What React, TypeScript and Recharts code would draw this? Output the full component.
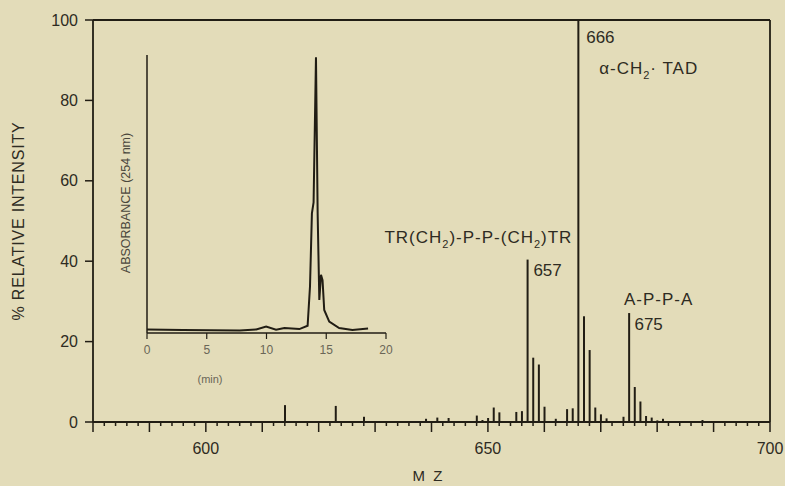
import React from "react";
import {
  ComposedChart,
  Bar,
  XAxis,
  YAxis,
  ReferenceLine,
  ReferenceDot,
  LineChart,
  Line,
} from "recharts";

// mass spectrum (m/z, % relative intensity)
const massValues = [614, 623, 628, 639, 641, 643, 648, 649, 650, 651, 652, 655, 656, 657, 658, 659, 660, 662, 664, 665, 666, 667, 668, 669, 670, 671, 674, 675, 676, 677, 678, 679, 680, 681, 688];
const intensities = [4.2, 4.0, 1.3, 0.8, 1.1, 1.0, 1.6, 0.5, 1.0, 3.6, 2.4, 2.5, 2.7, 40.4, 16, 14.3, 3.8, 0.8, 3.2, 3.4, 100, 26.3, 17.9, 3.6, 1.9, 0.9, 1.3, 27.1, 8.7, 5.1, 1.5, 1.1, 0.4, 0.8, 0.5];

const yTicks = [0, 20, 40, 60, 80, 100];
const xTickValues: number[] = [];
for (let v = 580; v <= 700; v += 2) xTickValues.push(v);
const xLabelled = [600, 650, 700];

// inset chromatogram (min, absorbance)
const insetTimes = [0, 3, 7.75, 9.14, 9.97, 10.8, 11.5, 12.75, 13.44, 13.64, 13.8, 13.94, 14.14, 14.28, 14.42, 14.56, 14.69, 14.83, 15.25, 16.08, 17.19, 18.5];
const insetAbsorbance = [1.3, 1.1, 0.9, 1.3, 2.3, 1.2, 1.8, 1.4, 2.6, 16.7, 43, 47, 99.2, 43, 11.9, 20.9, 19, 8.3, 4.1, 1.8, 1.1, 1.6];
const insetTicks = [0, 5, 10, 15, 20];

const peakTags = [666, 657, 675];
const compoundNames = [
  { mz: 666, parts: ["α-CH", "2", "· TAD"] },
  { mz: 657, parts: ["TR(CH", "2", ")-P-P-(CH", "2", ")TR"] },
  { mz: 675, parts: ["A-P-P-A"] },
];

const spectrum = massValues.map((mz, i) => ({ mz, intensity: intensities[i] }));
const chromatogram = insetTimes.map((t, i) => ({ t, a: insetAbsorbance[i] }));
const valueAt = (mz: number) => intensities[massValues.indexOf(mz)];

const BG = "#e3dcb9";
const INK = "#211d14";
const TEXT = "#2e2b22";
const FONT = "'Liberation Sans', Arial, sans-serif";

const tagOffset: Record<number, [number, number]> = { 666: [8, 23], 657: [6, 16], 675: [5.5, 17] };
const nameOffset: Record<number, [number, number, "start" | "end"]> = {
  666: [21, 54, "start"],
  657: [45, -17, "end"],
  675: [-5, -8, "start"],
};

const MassTick = (props: any) => {
  const { x, y, payload } = props;
  const v = payload.value;
  const len = v % 10 === 0 ? 10 : 4;
  return (
    <g>
      <line x1={x} x2={x} y1={y} y2={y + len} stroke={INK} strokeWidth={1.5} />
      {xLabelled.includes(v) && (
        <text x={x} y={y + 32} textAnchor="middle" fontSize={16} fill={TEXT} fontFamily={FONT}>
          {v}
        </text>
      )}
    </g>
  );
};

const renderName = (parts: string[]) =>
  parts.map((p, i) =>
    i % 2 === 1 ? (
      <tspan key={i} fontSize={11} dy={5}>{p}</tspan>
    ) : (
      <tspan key={i} dy={i === 0 ? 0 : -5}>{p}</tspan>
    )
  );

export default function App() {
  return (
    <div style={{ position: "absolute", left: 0, top: 0, width: 785, height: 486, background: BG, overflow: "hidden" }}>
      <ComposedChart
        width={785}
        height={486}
        data={spectrum}
        margin={{ top: 20, right: 15, bottom: 24, left: 0 }}
        style={{ position: "absolute", left: 0, top: 0 }}
      >
        <XAxis
          dataKey="mz"
          type="number"
          domain={[580, 700]}
          ticks={xTickValues}
          interval={0}
          tick={<MassTick />}
          tickLine={false}
          tickSize={0}
          tickMargin={0}
          height={40}
          axisLine={{ stroke: INK, strokeWidth: 1.8 }}
          allowDataOverflow
          label={{
            content: (p: any) => {
              const vb = p.viewBox;
              return (
                <text x={vb.x + vb.width / 2 - 3} y={vb.y + vb.height + 19} textAnchor="middle" fontSize={15} fill={TEXT} fontFamily={FONT} letterSpacing={2}>
                  M Z
                </text>
              );
            },
          }}
        />
        <YAxis
          type="number"
          domain={[0, 100]}
          ticks={yTicks}
          interval={0}
          width={93}
          tickSize={8}
          tickMargin={7}
          tickLine={{ stroke: INK, strokeWidth: 1.5 }}
          axisLine={{ stroke: INK, strokeWidth: 1.8 }}
          tick={{ fontSize: 16, fill: TEXT, fontFamily: FONT }}
          label={{
            content: (p: any) => {
              const vb = p.viewBox;
              const cx = vb.x + 18;
              const cy = vb.y + vb.height / 2;
              return (
                <text x={cx} y={cy} transform={`rotate(-90 ${cx} ${cy})`} textAnchor="middle" dominantBaseline="central" fontSize={16} fill={TEXT} fontFamily={FONT} letterSpacing={0.8}>
                  % RELATIVE INTENSITY
                </text>
              );
            },
          }}
        />
        <ReferenceLine y={100} stroke={INK} strokeWidth={1.8} />
        <ReferenceLine x={700} stroke={INK} strokeWidth={1.8} />
        <Bar dataKey="intensity" fill={INK} barSize={2} isAnimationActive={false} />
        {peakTags.map((mz) => (
          <ReferenceDot
            key={"tag" + mz}
            x={mz}
            y={valueAt(mz)}
            r={0}
            fill="none"
            stroke="none"
            label={{
              content: (p: any) => (
                <text x={p.viewBox.x + tagOffset[mz][0]} y={p.viewBox.y + tagOffset[mz][1]} fontSize={17} fill={TEXT} fontFamily={FONT}>
                  {mz}
                </text>
              ),
            }}
          />
        ))}
        {compoundNames.map((c) => (
          <ReferenceDot
            key={"name" + c.mz}
            x={c.mz}
            y={valueAt(c.mz)}
            r={0}
            fill="none"
            stroke="none"
            label={{
              content: (p: any) => (
                <text
                  x={p.viewBox.x + nameOffset[c.mz][0]}
                  y={p.viewBox.y + nameOffset[c.mz][1]}
                  textAnchor={nameOffset[c.mz][2]}
                  fontSize={17}
                  fill={TEXT}
                  fontFamily={FONT}
                  letterSpacing={1}
                >
                  {renderName(c.parts)}
                </text>
              ),
            }}
          />
        ))}
      </ComposedChart>

      <LineChart
        width={300}
        height={350}
        data={chromatogram}
        margin={{ top: 15, right: 14, bottom: 7, left: 17 }}
        style={{ position: "absolute", left: 100, top: 40 }}
      >
        <XAxis
          dataKey="t"
          type="number"
          domain={[0, 20]}
          ticks={insetTicks}
          interval={0}
          height={50}
          tickSize={6}
          tickMargin={6}
          tickLine={{ stroke: INK, strokeWidth: 1.2 }}
          axisLine={{ stroke: INK, strokeWidth: 1.5 }}
          tick={{ fontSize: 12, fill: "#6a6657", fontFamily: FONT }}
          label={{
            content: (p: any) => (
              <text x={p.viewBox.x + 63} y={p.viewBox.y + 50} textAnchor="middle" fontSize={11} fill="#6a6657" fontFamily={FONT}>
                (min)
              </text>
            ),
          }}
        />
        <YAxis
          type="number"
          domain={[0, 100]}
          width={30}
          tick={false}
          tickLine={false}
          axisLine={{ stroke: INK, strokeWidth: 1.5 }}
          label={{
            content: (p: any) => {
              const vb = p.viewBox;
              const cx = vb.x + 9;
              const cy = vb.y + 148;
              return (
                <text x={cx} y={cy} transform={`rotate(-90 ${cx} ${cy})`} textAnchor="middle" dominantBaseline="central" fontSize={12.5} fill="#4a473c" fontFamily={FONT}>
                  ABSORBANCE (254 nm)
                </text>
              );
            },
          }}
        />
        <Line type="linear" dataKey="a" stroke={INK} strokeWidth={2} dot={false} isAnimationActive={false} />
      </LineChart>
    </div>
  );
}
